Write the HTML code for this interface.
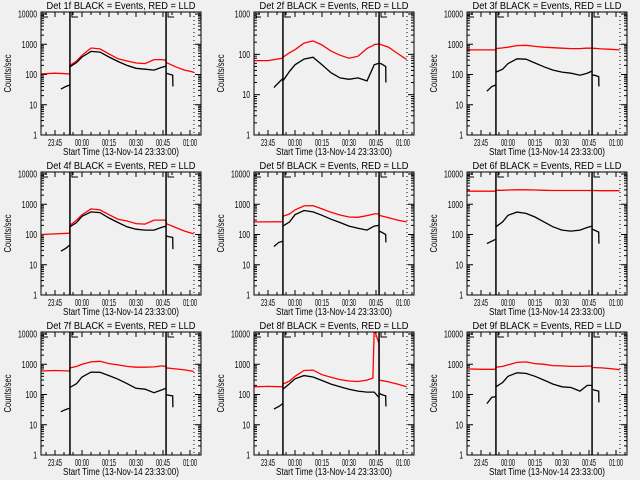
<!DOCTYPE html>
<html><head><meta charset="utf-8">
<style>
html,body{margin:0;padding:0;background:#f0f0f0;}
svg{display:block;font-family:"Liberation Sans",sans-serif;}
</style></head>
<body>
<svg id="fig" width="640" height="480" viewBox="0 0 640 480" xmlns="http://www.w3.org/2000/svg">
<rect x="0" y="0" width="640" height="480" fill="#f0f0f0"/>
</svg>
<script>
// times in minutes relative to 00:00 (negative = before midnight)
const RED_T = [-22.8,-15,-6.8,-6.7,-3,0,5,10,15,20,25,30,35,40,43.3,44,46.6,46.7,52,57,62];
const BLK_T = [-11.7,-9,-6.8,null,-6.7,-3,0,5,10,15,20,25,30,35,40,44,46.6,null,46.7,48,50.4,50.5];
const TICK_T = [-15,0,15,30,45,60];
const TICK_LABELS = ["23:45","00:00","00:15","00:30","00:45","01:00"];
const DET_NAMES = ["1f","2f","3f","4f","5f","6f","7f","8f","9f"];
const red1 = [105,110,105,200,280,430,750,700,480,330,280,240,230,310,310,310,300,250,180,140,120];
const red2 = [70,70,80,85,110,130,190,215,170,120,95,80,90,140,165,175,180,180,150,105,75];
const red3 = [650,650,650,720,760,800,900,920,850,800,770,740,720,720,740,740,740,740,700,680,650];
const red4 = [100,105,110,200,300,450,700,650,450,320,280,230,220,300,300,300,300,230,170,130,105];
const red5 = [260,260,265,400,480,650,880,900,700,540,440,380,370,420,470,480,480,430,360,300,260];
const red6 = [2700,2700,2700,2900,2900,2950,3000,3000,2950,2900,2850,2850,2850,2850,2850,2850,2850,2850,2800,2800,2800];
const red7 = [600,620,600,750,850,1000,1200,1250,1050,950,850,800,800,820,870,880,850,760,700,650,580];
const red8 = [180,185,180,220,280,400,620,640,450,370,310,280,270,300,350,14000,5000,300,260,220,180];
const red9 = [700,680,680,800,850,950,1150,1200,1050,1000,900,880,850,850,870,870,870,780,760,720,660];
const blk1 = [33,40,45,null,180,250,380,580,550,380,270,200,160,150,140,170,190,null,110,105,95,40];
const blk2 = [15,20,25,null,22,38,55,76,85,55,35,26,24,26,22,55,60,null,60,58,50,20];
const blk3 = [28,40,45,null,120,150,230,330,320,240,180,140,120,110,95,110,130,null,95,95,85,40];
const blk4 = [28,35,45,null,180,250,400,560,530,350,250,180,150,140,140,170,190,null,90,85,80,33];
const blk5 = [40,55,60,null,190,260,450,620,560,430,320,250,190,160,140,190,200,null,130,120,100,55];
const blk6 = [50,60,70,null,180,260,430,550,500,380,260,180,140,130,140,170,190,null,150,140,120,50];
const blk7 = [27,32,35,null,170,230,380,550,540,420,320,230,160,150,115,140,160,null,100,95,90,38];
const blk8 = [33,40,50,null,150,230,330,420,380,290,220,180,150,130,120,120,80,null,110,100,90,40];
const blk9 = [50,80,85,null,180,250,400,520,500,400,300,220,180,170,130,200,200,null,150,140,130,55];
const DECADES = [4,3,4,4,4,4,4,4,4];
const MARKER_T = [-6.7,46.7];
const DOTTED_T = 62.2;

const REDS=[red1,red2,red3,red4,red5,red6,red7,red8,red9];
const BLKS=[blk1,blk2,blk3,blk4,blk5,blk6,blk7,blk8,blk9];
const NS="http://www.w3.org/2000/svg";
const svg=document.getElementById('fig');
function mk(tag,attrs,parent){const e=document.createElementNS(NS,tag);for(const k in attrs)e.setAttribute(k,attrs[k]);parent.appendChild(e);return e;}
const BW=160,BH=123;
for(let p=0;p<9;p++){
  const col=p%3,row=Math.floor(p/3);
  const L=[41,254,467][col],T=[12,172,332][row];
  const dec=DECADES[p];
  const perDec=(BH-2)/dec;
  const topLog=dec+2/perDec;
  const xs=t=>L+41+t*1.8;
  const ys=v=>T+(topLog-Math.log10(v))*perDec;
  const g=mk('g',{},svg);
  
  
  const cid='clip'+p;
  const cp=mk('clipPath',{id:cid},g);mk('rect',{x:L,y:T,width:BW,height:BH},cp);
  // title
  const tt=mk('text',{x:L+80,y:T-3,'text-anchor':'middle','font-size':'10',textLength:'149',lengthAdjust:'spacingAndGlyphs',fill:'#000'},g);
  tt.textContent='Det '+DET_NAMES[p]+' BLACK = Events, RED = LLD';
  
  
  // y tick labels and ticks
  for(let d=0;d<=dec;d++){
    const y=ys(Math.pow(10,d));
    const lab=String(Math.pow(10,d));
    const t=mk('text',{x:L-4,y:y+3.5,'text-anchor':'end','font-size':'10',textLength:String(lab.length*3.8),lengthAdjust:'spacingAndGlyphs',fill:'#000'},g);
    t.textContent=lab;
    
    
    mk('line',{x1:L,y1:y,x2:L+6,y2:y,stroke:'#000','stroke-width':1},g);
    mk('line',{x1:L+BW,y1:y,x2:L+BW-6,y2:y,stroke:'#000','stroke-width':1},g);
    if(d<dec){for(let m=2;m<=9;m++){const ym=ys(m*Math.pow(10,d));
      mk('line',{x1:L,y1:ym,x2:L+3,y2:ym,stroke:'#000','stroke-width':1},g);
      mk('line',{x1:L+BW,y1:ym,x2:L+BW-3,y2:ym,stroke:'#000','stroke-width':1},g);}}
  }
  const yl=mk('text',{x:0,y:0,transform:`translate(${L-30},${T+BH/2}) rotate(-90)`,'text-anchor':'middle','font-size':'10',textLength:'38',lengthAdjust:'spacingAndGlyphs',fill:'#000'},g);
  yl.textContent='Counts/sec';
  
  
  // x ticks
  for(let t=-20;t<=65;t+=5){const x=xs(t);if(x<L||x>L+BW)continue;const len=(t%15===0)?5:3;
    mk('line',{x1:x,y1:T+BH,x2:x,y2:T+BH-len,stroke:'#000','stroke-width':1},g);
    mk('line',{x1:x,y1:T,x2:x,y2:T+len,stroke:'#000','stroke-width':1},g);}
  TICK_T.forEach((t,i)=>{const tx=mk('text',{x:xs(t),y:T+BH+11,'text-anchor':'middle','font-size':'10',textLength:'14',lengthAdjust:'spacingAndGlyphs',fill:'#000'},g);
    tx.textContent=TICK_LABELS[i];
    
    });
  const xl=mk('text',{x:L+80,y:T+BH+20,'text-anchor':'middle','font-size':'10',textLength:'116',lengthAdjust:'spacingAndGlyphs',fill:'#000'},g);
  xl.textContent='Start Time (13-Nov-14 23:33:00)';
  
  
  // data
  const dg=mk('g',{'clip-path':`url(#${cid})`},g);
  const red=REDS[p];
  const rp=mk('polyline',{points:RED_T.map((t,i)=>xs(t).toFixed(1)+','+ys(red[i]).toFixed(1)).join(' '),fill:'none',stroke:'#ff0000','stroke-width':1.3},dg);
  
  
  const blk=BLKS[p];let seg=[];
  const flush=()=>{if(seg.length>1){const bp=mk('polyline',{points:seg.join(' '),fill:'none',stroke:'#000','stroke-width':1.3},dg);
    
    }seg=[];};
  BLK_T.forEach((t,i)=>{if(t===null||blk[i]===null){flush();return;}seg.push(xs(t).toFixed(1)+','+ys(blk[i]).toFixed(1));});
  flush();
  // markers
  MARKER_T.forEach(t=>{const ml=mk('line',{x1:xs(t),y1:T,x2:xs(t),y2:T+BH,stroke:'#000','stroke-width':1.5},g);
    
    
    mk('path',{d:`M${xs(t)+2},${T} V${T+5} H${xs(t)+8}`,fill:'none',stroke:'#000','stroke-width':1},g);});
  mk('path',{d:`M${L+2},${T} V${T+5} H${L+7}`,fill:'none',stroke:'#000','stroke-width':1},g);
  const dl=mk('line',{x1:xs(DOTTED_T),y1:T,x2:xs(DOTTED_T),y2:T+BH,stroke:'#000','stroke-width':1,'stroke-dasharray':'1,3'},g);
  
  
  const box=mk('rect',{x:L,y:T,width:BW,height:BH,fill:'none',stroke:'#000','stroke-width':1},g);
  
  
}
</script>
</body></html>
